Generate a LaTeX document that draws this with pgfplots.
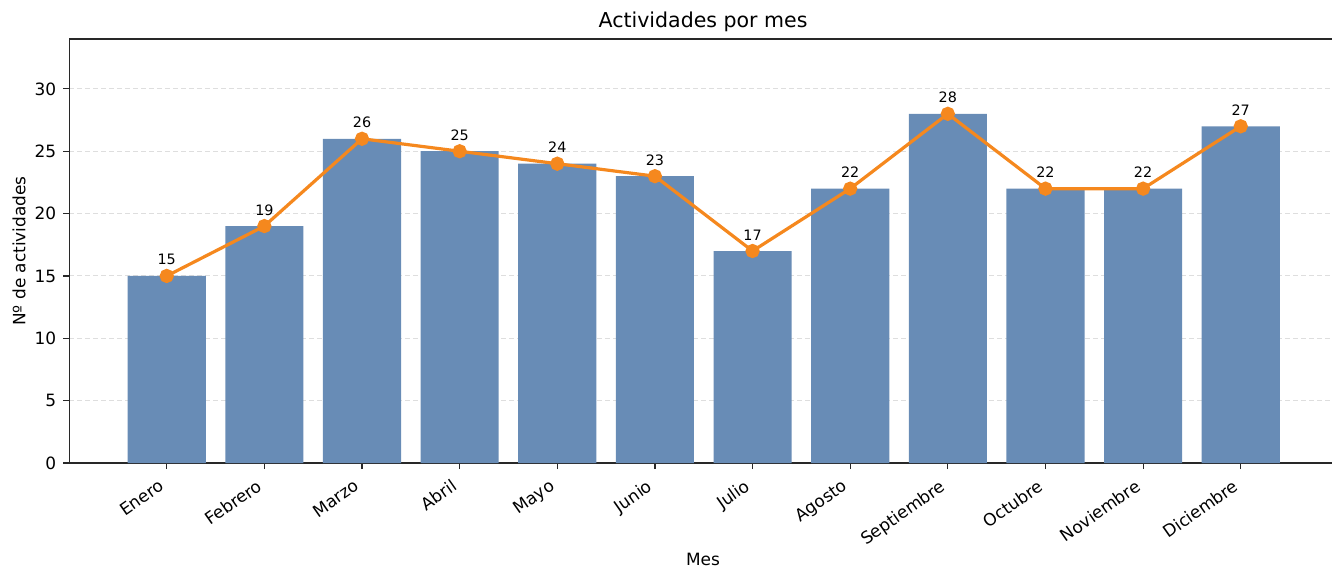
\documentclass[border=0pt]{standalone}
\usepackage{pgfplots}
\pgfplotsset{compat=1.18}
\usepackage{fontspec}
\setmainfont{DejaVu Sans}
\definecolor{barblue}{RGB}{104,140,182}
\definecolor{lineorange}{RGB}{245,136,30}
\definecolor{gridgray}{RGB}{222,222,222}
\definecolor{spine}{RGB}{40,40,40}
\newcommand{\tickfont}{\fontsize{8.5}{10}\selectfont}
\begin{document}
\begin{tikzpicture}[x=1bp,y=1bp]
\useasboundingbox (0,0) rectangle (666,284);
\begin{axis}[
  at={(34.65bp,52.5bp)}, anchor=south west,
  width=631.35bp, height=212bp, scale only axis,
  xmin=-0.998, xmax=11.935, ymin=0, ymax=34,
  axis lines=left, axis line style={-, spine, line width=0.8bp},
  xtick={0,...,11},
  xticklabels={Enero,Febrero,Marzo,Abril,Mayo,Junio,Julio,Agosto,Septiembre,Octubre,Noviembre,Diciembre},
  ytick={0,5,...,30},
  tick style={spine, line width=0.6bp}, major tick length=3bp, tick align=outside,
  xticklabel style={xshift=-4bp, yshift=-2.5bp, rotate=35, anchor=north east, font=\tickfont, inner sep=1.5bp},
  yticklabel style={font=\tickfont},
  /pgf/number format/assume math mode=true,
  ymajorgrids, grid style={gridgray, line width=0.5bp, dash pattern=on 2.5bp off 1.5bp},
  clip=false,
]
\addplot[ybar, bar width=0.8, fill=barblue, draw=none] coordinates {
  (0,15) (1,19) (2,26) (3,25) (4,24) (5,23) (6,17) (7,22) (8,28) (9,22) (10,22) (11,27)};
\addplot[lineorange, line width=1.6bp, mark=*, mark size=2.75bp,
  mark options={fill=lineorange, draw=lineorange},
  nodes near coords,
  every node near coord/.style={font=\fontsize{7.2}{8}\selectfont, anchor=base, inner sep=0pt, yshift=5.5bp, text=black}]
  coordinates {
  (0,15) (1,19) (2,26) (3,25) (4,24) (5,23) (6,17) (7,22) (8,28) (9,22) (10,22) (11,27)};
\draw[spine, line width=0.8bp] (rel axis cs:0,1) -- (rel axis cs:1,1);
\end{axis}
\node[anchor=base, font=\fontsize{10.3}{12}\selectfont] at (351.5bp,270bp) {Actividades por mes};
\node[anchor=base, font=\tickfont] at (351.5bp,1.5bp) {Mes};
\node[rotate=90, anchor=center, font=\tickfont] at (9.5bp,158.5bp) {Nº de actividades};
\end{tikzpicture}
\end{document}
